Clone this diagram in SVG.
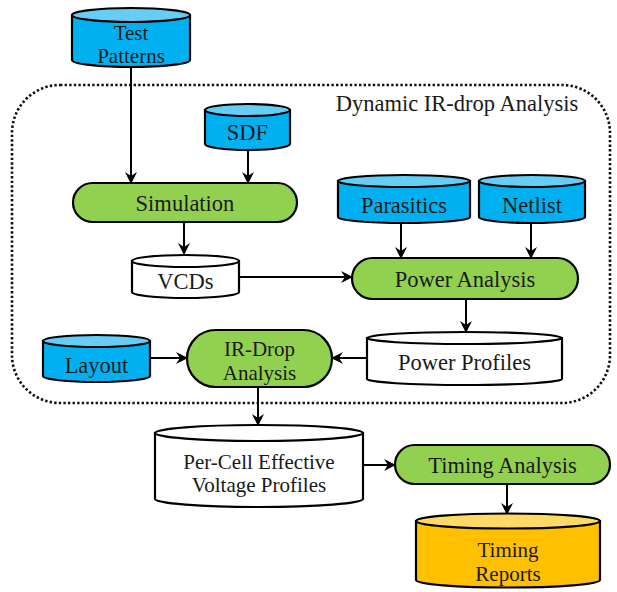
<svg xmlns="http://www.w3.org/2000/svg" width="617" height="592" viewBox="0 0 617 592">
  <defs>
    <style>
      .lbl { font-family: "Liberation Serif", "Times New Roman", serif; font-size: 22.5px; fill: #1a1a1a; text-anchor: middle; }
      .two { font-size: 21px; }
      .edge { stroke: #000; stroke-width: 2; fill: none; }
      .outline { stroke: #000; stroke-width: 2.2; }
      .blue { fill: #00b0f0; }
      .blue-top { fill: #66cdf5; }
      .green { fill: #92d050; }
      .white { fill: #ffffff; }
      .gold { fill: #ffc000; }
      .gold-top { fill: #ffd966; }
    </style>
    <marker id="arrow" viewBox="0 0 12 12" refX="11" refY="6" markerWidth="12" markerHeight="12" markerUnits="userSpaceOnUse" orient="auto">
      <path d="M0,0 L12,6 L0,12 L4,6 Z" fill="#000"/>
    </marker>
  </defs>

  <rect width="617" height="592" fill="#ffffff"/>

  <!-- dotted boundary of the dynamic IR-drop stage -->
  <g id="boundary">
    <rect x="12" y="85" width="598" height="318" rx="48" ry="48" fill="none" stroke="#111" stroke-width="2.6" stroke-dasharray="2.4 2.2"/>
    <text class="lbl" x="457" y="111">Dynamic IR-drop Analysis</text>
  </g>

  <!-- connectors -->
  <g id="connectors">
    <path class="edge" d="M131,67 V183" marker-end="url(#arrow)"/>
    <path class="edge" d="M248,150 V183" marker-end="url(#arrow)"/>
    <path class="edge" d="M184,222 V254" marker-end="url(#arrow)"/>
    <path class="edge" d="M239,277 H352" marker-end="url(#arrow)"/>
    <path class="edge" d="M401,223 V258" marker-end="url(#arrow)"/>
    <path class="edge" d="M531,223 V258" marker-end="url(#arrow)"/>
    <path class="edge" d="M466,299 V332" marker-end="url(#arrow)"/>
    <path class="edge" d="M367,358 H332" marker-end="url(#arrow)"/>
    <path class="edge" d="M150,358 H187" marker-end="url(#arrow)"/>
    <path class="edge" d="M258,387 V425" marker-end="url(#arrow)"/>
    <path class="edge" d="M363,465 H395" marker-end="url(#arrow)"/>
    <path class="edge" d="M507,484 V514" marker-end="url(#arrow)"/>
  </g>

  <!-- Test Patterns -->
  <g id="test-patterns">
    <path class="outline blue" d="M72,15 V60 A59,7 0 0 0 190,60 V15 Z"/>
    <ellipse class="outline blue-top" cx="131" cy="15" rx="59" ry="7"/>
    <text class="lbl two" x="131" y="39.5">Test</text>
    <text class="lbl two" x="131" y="63">Patterns</text>
  </g>

  <!-- SDF -->
  <g id="sdf">
    <path class="outline blue" d="M205,110 V144 A42.5,6 0 0 0 290,144 V110 Z"/>
    <ellipse class="outline blue-top" cx="247.5" cy="110" rx="42.5" ry="6"/>
    <text class="lbl" x="247.5" y="140">SDF</text>
  </g>

  <!-- Simulation -->
  <g id="simulation">
    <rect class="outline green" x="73" y="183" width="224" height="39" rx="19.5"/>
    <text class="lbl" x="185" y="210.5">Simulation</text>
  </g>

  <!-- VCDs -->
  <g id="vcds">
    <path class="outline white" d="M132,261 V292 A53.5,6 0 0 0 239,292 V261 Z"/>
    <ellipse class="outline white" cx="185.5" cy="261" rx="53.5" ry="6"/>
    <text class="lbl" x="185.5" y="289">VCDs</text>
  </g>

  <!-- Parasitics -->
  <g id="parasitics">
    <path class="outline blue" d="M338,181 V217 A66,6 0 0 0 470,217 V181 Z"/>
    <ellipse class="outline blue-top" cx="404" cy="181" rx="66" ry="6"/>
    <text class="lbl" x="404" y="213">Parasitics</text>
  </g>

  <!-- Netlist -->
  <g id="netlist">
    <path class="outline blue" d="M479,181 V217 A53,6 0 0 0 585,217 V181 Z"/>
    <ellipse class="outline blue-top" cx="532" cy="181" rx="53" ry="6"/>
    <text class="lbl" x="532" y="213">Netlist</text>
  </g>

  <!-- Power Analysis -->
  <g id="power-analysis">
    <rect class="outline green" x="352" y="258" width="226" height="41" rx="20.5"/>
    <text class="lbl" x="465" y="287">Power Analysis</text>
  </g>

  <!-- Power Profiles -->
  <g id="power-profiles">
    <path class="outline white" d="M367,338 V379 A97.5,6 0 0 0 562,379 V338 Z"/>
    <ellipse class="outline white" cx="464.5" cy="338" rx="97.5" ry="6"/>
    <text class="lbl" x="464.5" y="369.5">Power Profiles</text>
  </g>

  <!-- Layout -->
  <g id="layout">
    <path class="outline blue" d="M43,341 V376 A53.5,6 0 0 0 150,376 V341 Z"/>
    <ellipse class="outline blue-top" cx="96.5" cy="341" rx="53.5" ry="6"/>
    <text class="lbl" x="96.5" y="373">Layout</text>
  </g>

  <!-- IR-Drop Analysis -->
  <g id="ir-drop-analysis">
    <rect class="outline green" x="187" y="330" width="145" height="57" rx="28.5"/>
    <text class="lbl two" x="259.5" y="356">IR-Drop</text>
    <text class="lbl two" x="259.5" y="379.5">Analysis</text>
  </g>

  <!-- Per-Cell Effective Voltage Profiles -->
  <g id="per-cell-profiles">
    <path class="outline white" d="M155,433 V499 A104,8 0 0 0 363,499 V433 Z"/>
    <ellipse class="outline white" cx="259" cy="433" rx="104" ry="8"/>
    <text class="lbl two" x="259" y="468.5">Per-Cell Effective</text>
    <text class="lbl two" x="259" y="492">Voltage Profiles</text>
  </g>

  <!-- Timing Analysis -->
  <g id="timing-analysis">
    <rect class="outline green" x="395" y="445" width="215" height="39" rx="19.5"/>
    <text class="lbl" x="502.5" y="473">Timing Analysis</text>
  </g>

  <!-- Timing Reports -->
  <g id="timing-reports">
    <path class="outline gold" d="M416,521 V580 A92,7.5 0 0 0 600,580 V521 Z"/>
    <ellipse class="outline gold-top" cx="508" cy="521" rx="92" ry="7.5"/>
    <text class="lbl two" x="508" y="557">Timing</text>
    <text class="lbl two" x="508" y="580.5">Reports</text>
  </g>
</svg>
